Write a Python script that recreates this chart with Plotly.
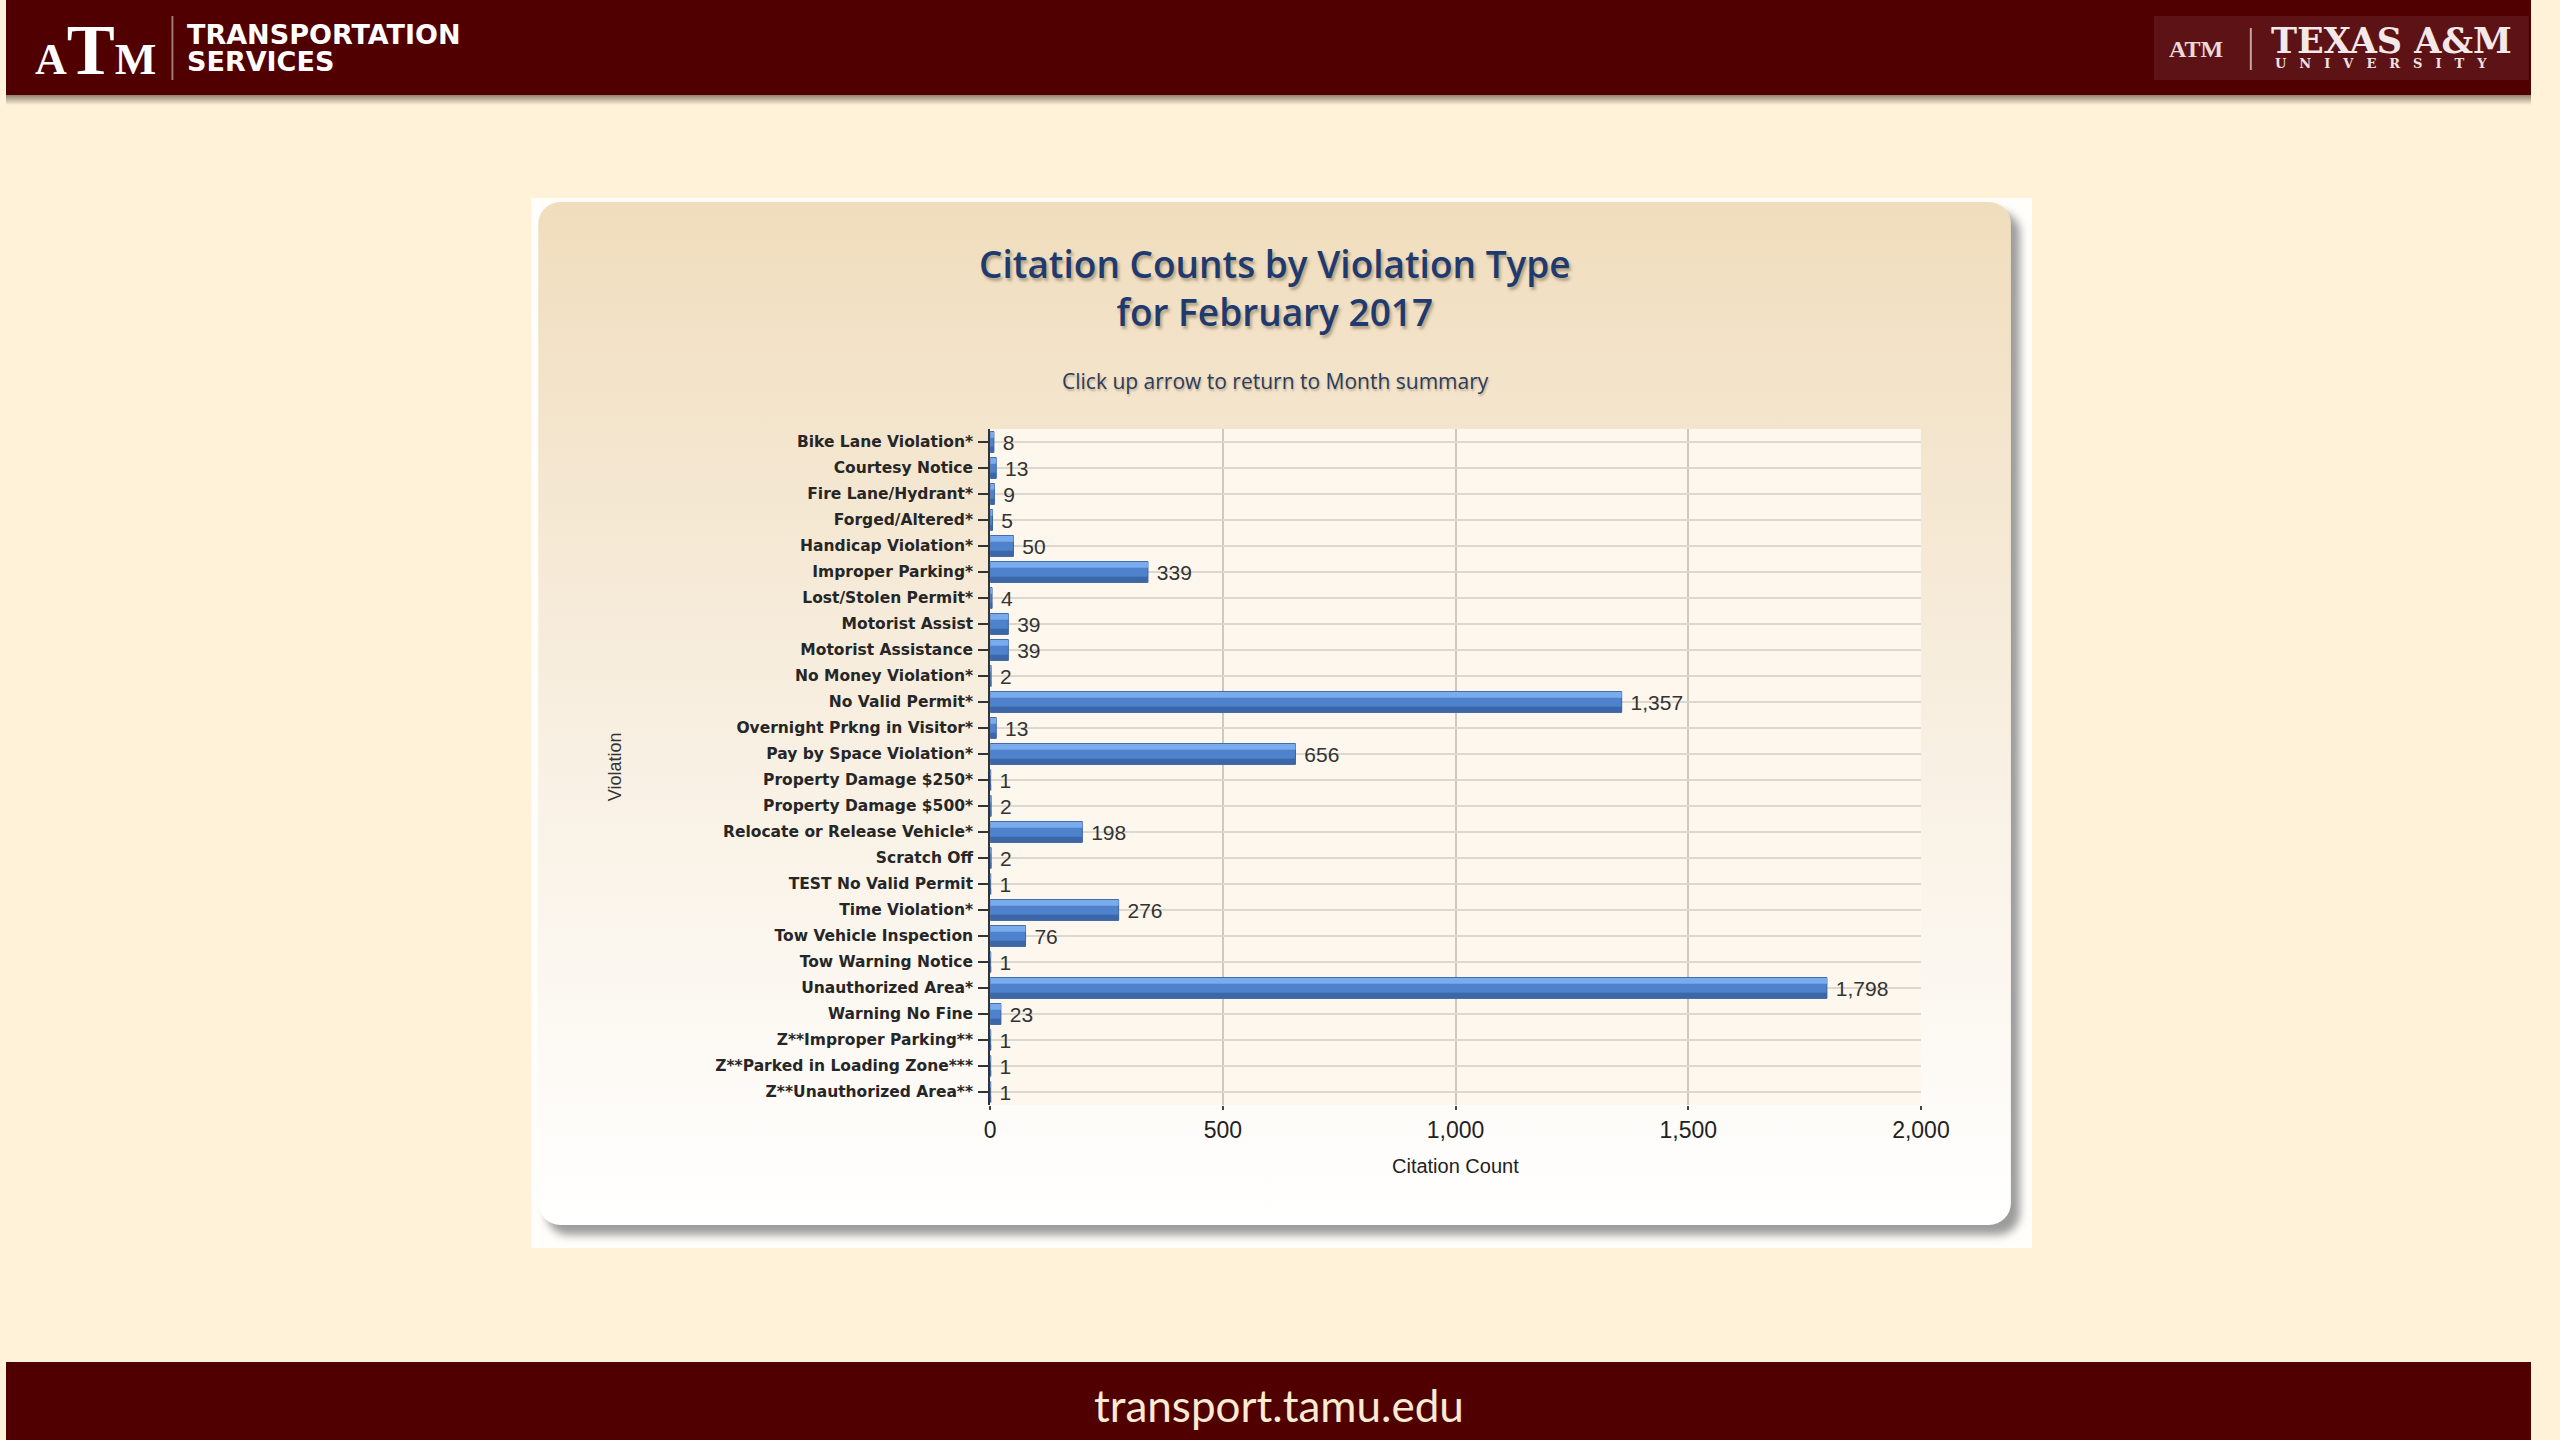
import base64
import plotly.graph_objects as go

# ---------------- data ----------------
categories = [
    "Bike Lane Violation*", "Courtesy Notice", "Fire Lane/Hydrant*", "Forged/Altered*",
    "Handicap Violation*", "Improper Parking*", "Lost/Stolen Permit*", "Motorist Assist",
    "Motorist Assistance", "No Money Violation*", "No Valid Permit*",
    "Overnight Prkng in Visitor*", "Pay by Space Violation*", "Property Damage $250*",
    "Property Damage $500*", "Relocate or Release Vehicle*", "Scratch Off",
    "TEST No Valid Permit", "Time Violation*", "Tow Vehicle Inspection",
    "Tow Warning Notice", "Unauthorized Area*", "Warning No Fine",
    "Z**Improper Parking**", "Z**Parked in Loading Zone***", "Z**Unauthorized Area**",
]
citation_counts = [8, 13, 9, 5, 50, 339, 4, 39, 39, 2, 1357, 13, 656, 1, 2, 198, 2, 1,
                   276, 76, 1, 1798, 23, 1, 1, 1]
x_tick_values = [0, 500, 1000, 1500, 2000]

title_lines = ["Citation Counts by Violation Type", "for February 2017"]
subtitle = "Click up arrow to return to Month summary"
x_title = "Citation Count"
y_title = "Violation"

# ---------------- geometry helpers ----------------
W, H = 2560, 1440
# small horizontal correction for the capture (page appears slightly narrowed)
SX, OX = 1.01357, -6.62


def X(x):
    return SX * x + OX


PX0, PX1 = X(991), X(1922)   # plot area x pixels
PY0, PY1 = 429, 1105         # plot area y pixels (top, bottom)


def px(x):
    return x / W


def py(y):
    return 1 - y / H


# ---------------- background artwork (SVG) ----------------
svg = f"""<svg xmlns='http://www.w3.org/2000/svg' width='{W}' height='{H}' viewBox='0 0 {W} {H}' preserveAspectRatio='none'>
<defs>
<linearGradient id='cardG' x1='0' y1='0' x2='0' y2='1'>
<stop offset='0' stop-color='#F0DDBD'/>
<stop offset='0.45' stop-color='#F7EDDD'/>
<stop offset='1' stop-color='#FFFFFF'/>
</linearGradient>
<linearGradient id='tbS' x1='0' y1='0' x2='0' y2='1'>
<stop offset='0' stop-color='#8E8272'/>
<stop offset='1' stop-color='#FFF2D8'/>
</linearGradient>
<filter id='blur' x='-5%' y='-5%' width='110%' height='110%'><feGaussianBlur stdDeviation='4'/></filter>
</defs>
<g transform='translate({OX},0) scale({SX},1)'>
<rect x='-20' y='0' width='{W + 40}' height='{H}' fill='#FFF2D8'/>
<rect x='-20' y='95' width='{W + 40}' height='10' fill='url(#tbS)'/>
<rect x='-20' y='0' width='{W + 40}' height='95' fill='#500000'/>
<rect x='2155' y='16' width='375' height='64' fill='#5D1316'/>
<line x1='173' y1='16' x2='173' y2='80' stroke='#A57878' stroke-width='2'/>
<line x1='2252' y1='28' x2='2252' y2='70' stroke='#C4A4A4' stroke-width='2'/>
<rect x='-20' y='1362' width='{W + 40}' height='78' fill='#500000'/>
<rect x='532' y='198' width='1501' height='1050' fill='#FFFEFA'/>
<rect x='547' y='211' width='1474' height='1024' rx='22' fill='#9C9C9C' filter='url(#blur)'/>
<rect x='539' y='202' width='1473' height='1023' rx='22' fill='url(#cardG)'/>
<rect x='991' y='{PY0}' width='931' height='{PY1 - PY0}' fill='#FDF7EE'/>
</g>
</svg>"""
svg_uri = "data:image/svg+xml;base64," + base64.b64encode(svg.encode()).decode()

# ---------------- figure ----------------
fig = go.Figure()

fig.add_trace(go.Bar(
    y=categories, x=citation_counts, orientation="h", width=0.8,
    marker=dict(color="#4E82CC", line=dict(color="#3A63A5", width=1)),
    texttemplate="\u00a0%{x:,}", textposition="outside", cliponaxis=False,
    constraintext="none",
    textfont=dict(family="Liberation Sans", size=21, color="#333333"),
    hoverinfo="skip", showlegend=False,
))
# highlight (upper part of each bar)
fig.add_trace(go.Bar(
    y=categories, x=citation_counts, orientation="h", width=0.22, offset=-0.38,
    marker=dict(color="#7AABEC", line=dict(width=0)),
    hoverinfo="skip", showlegend=False,
))
# shade (lower part of each bar)
fig.add_trace(go.Bar(
    y=categories, x=citation_counts, orientation="h", width=0.2, offset=0.18,
    marker=dict(color="#3B66A8", line=dict(width=0)),
    hoverinfo="skip", showlegend=False,
))

fig.update_layout(
    autosize=True,
    margin=dict(l=0, r=0, t=0, b=0, pad=0),
    paper_bgcolor="#FFF2D8",
    plot_bgcolor="rgba(0,0,0,0)",
    barmode="overlay",
    hovermode=False,
    showlegend=False,
    images=[dict(source=svg_uri, xref="paper", yref="paper", x=0, y=1,
                 sizex=1, sizey=1, xanchor="left", yanchor="top",
                 sizing="stretch", layer="below")],
    xaxis=dict(
        domain=[px(PX0), px(PX1)], range=[0, 2000],
        tickvals=x_tick_values, tickformat=",",
        ticks="outside", ticklen=4, tickwidth=2, tickcolor="#444444",
        showgrid=True, gridcolor="#CDC8C0", gridwidth=2,
        zeroline=False, showline=False,
        tickfont=dict(family="Liberation Sans", size=23, color="#222222"),
        fixedrange=True,
    ),
    yaxis=dict(
        domain=[py(PY1), py(PY0)],
        categoryorder="array", categoryarray=categories, autorange="reversed",
        ticks="outside", ticklen=10, tickwidth=2, tickcolor="#333333",
        showline=True, linecolor="#333333", linewidth=2,
        showgrid=True, gridcolor="#DDD8CF", gridwidth=2,
        zeroline=False,
        tickfont=dict(family="DejaVu Sans", size=15.5, color="#262626", weight="bold"),
        ticklabelstandoff=2,
        fixedrange=True,
    ),
)

ann = []


def add_text(text, x, y, size, color, family, **kw):
    d = dict(text=text, x=px(X(x)), y=py(y), xref="paper", yref="paper",
             showarrow=False, xanchor=kw.pop("xanchor", "center"),
             yanchor=kw.pop("yanchor", "middle"),
             font=dict(family=family, size=size, color=color, **kw.pop("font", {})))
    d.update(kw)
    ann.append(d)


title_shadow = "2px 3px 3px rgba(130,110,80,0.55)"
add_text("<br>".join(title_lines), 1276, 288, 37, "#1E3A6E", "Open Sans",
         font=dict(weight=600, shadow=title_shadow))
add_text(subtitle, 1276, 381, 21, "#2C3B5C", "Open Sans",
         font=dict(shadow="1px 2px 2px rgba(130,110,80,0.45)"))
add_text(x_title, (991 + 1922) / 2, 1166, 20, "#222222", "Liberation Sans")
add_text(y_title, 616, (PY0 + PY1) / 2, 18, "#333333", "Liberation Sans", textangle=-90)

# header branding
add_text("TRANSPORTATION", 186, 34, 27, "#FFFFFF", "DejaVu Sans",
         xanchor="left", font=dict(weight="bold"))
add_text("SERVICES", 186, 62, 27, "#FFFFFF", "DejaVu Sans",
         xanchor="left", font=dict(weight="bold"))
add_text("A<span style='font-size:72px'>T</span>M", 96, 50, 44, "#FFFFFF",
         "Liberation Serif", font=dict(weight="bold"))

add_text("ATM", 2197, 49, 24, "#EADADA", "Liberation Serif", font=dict(weight="bold"))
add_text("TEXAS A&amp;M", 2270, 40, 35, "#F4E8E8", "DejaVu Serif",
         xanchor="left", font=dict(weight="bold"))
add_text("\u2003".join("UNIVERSITY"), 2274, 64, 13, "#F0E2E2", "DejaVu Serif",
         xanchor="left", font=dict(weight="bold"))

# footer
add_text("transport.tamu.edu", 1280, 1405, 44, "#FBEBD3", "Lato")

fig.update_layout(annotations=ann)

fig.write_html(
    "out.html",
    config={"displayModeBar": False, "responsive": True},
    default_width="100vw",
    default_height="100vh;position:fixed;left:0;top:0;margin:0",
    post_script="document.documentElement.style.overflow='hidden';document.body.style.margin='0';document.body.style.overflow='hidden';",
)
